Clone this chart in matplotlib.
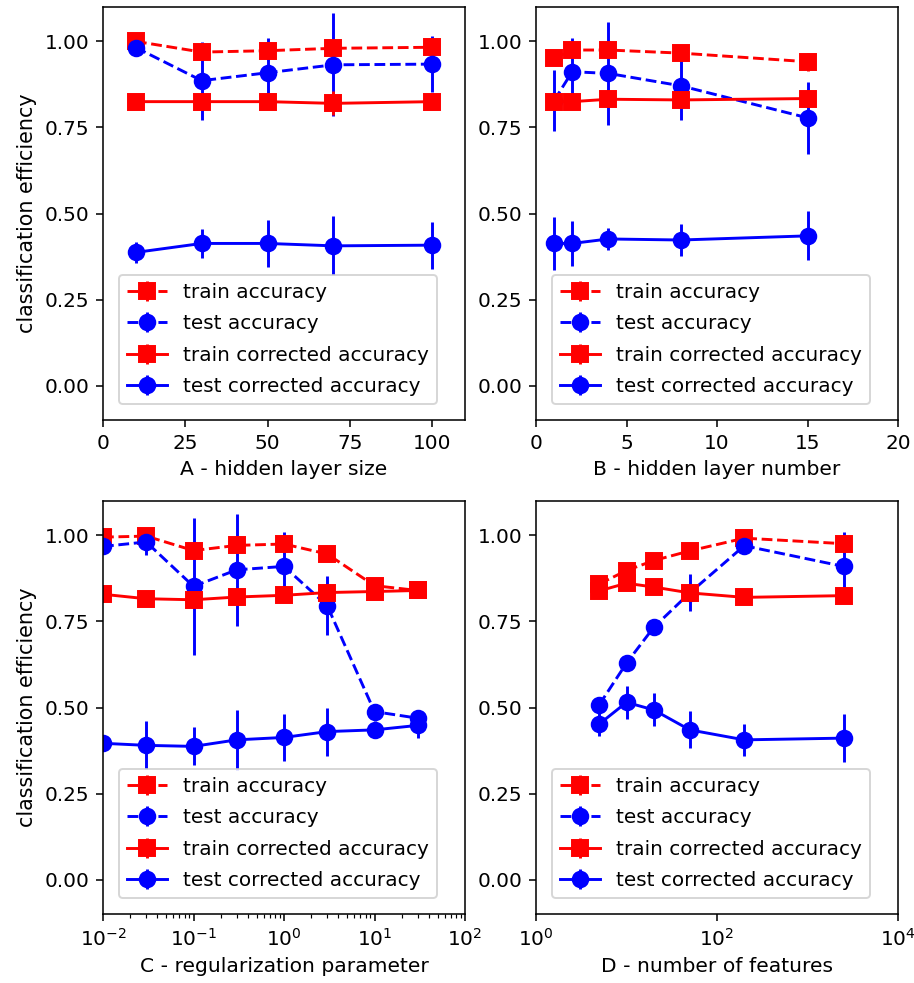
import matplotlib
matplotlib.use("Agg")
import matplotlib.pyplot as plt
from matplotlib.ticker import NullLocator

# A - hidden layer size
a_x = [10, 30, 50, 70, 100]
a_train = [1.000, 0.969, 0.973, 0.980, 0.983]
a_train_err = [0.010, 0.010, 0.010, 0.010, 0.010]
a_test = [0.982, 0.886, 0.909, 0.932, 0.934]
a_test_err = [0.010, 0.113, 0.100, 0.150, 0.082]
a_train_corr = [0.825, 0.825, 0.825, 0.820, 0.825]
a_train_corr_err = [0.008, 0.008, 0.008, 0.035, 0.012]
a_test_corr = [0.387, 0.413, 0.413, 0.406, 0.408]
a_test_corr_err = [0.031, 0.042, 0.068, 0.086, 0.068]

# B - hidden layer number
b_x = [1, 2, 4, 8, 15]
b_train = [0.951, 0.975, 0.975, 0.966, 0.941]
b_train_err = [0.015, 0.010, 0.010, 0.020, 0.026]
b_test = [0.828, 0.912, 0.907, 0.871, 0.778]
b_test_err = [0.089, 0.097, 0.150, 0.099, 0.104]
b_train_corr = [0.825, 0.825, 0.832, 0.830, 0.834]
b_train_corr_err = [0.010, 0.008, 0.008, 0.008, 0.010]
b_test_corr = [0.413, 0.413, 0.426, 0.423, 0.435]
b_test_corr_err = [0.078, 0.066, 0.032, 0.046, 0.071]

# C - regularization parameter
c_x = [0.01, 0.03, 0.1, 0.3, 1, 3, 10, 30]
c_train = [0.995, 0.998, 0.956, 0.971, 0.975, 0.946, 0.854, 0.840]
c_train_err = [0.010, 0.012, 0.010, 0.010, 0.010, 0.020, 0.020, 0.010]
c_test = [0.968, 0.981, 0.852, 0.900, 0.910, 0.796, 0.488, 0.469]
c_test_err = [0.015, 0.039, 0.200, 0.163, 0.100, 0.086, 0.012, 0.012]
c_train_corr = [0.829, 0.816, 0.813, 0.821, 0.826, 0.834, 0.837, 0.840]
c_train_corr_err = [0.012, 0.015, 0.010, 0.012, 0.010, 0.012, 0.012, 0.010]
c_test_corr = [0.396, 0.390, 0.387, 0.406, 0.413, 0.430, 0.435, 0.448]
c_test_corr_err = [0.010, 0.070, 0.055, 0.087, 0.068, 0.070, 0.025, 0.036]

# D - number of features
d_x = [5, 10, 20, 50, 200, 2500]
d_train = [0.859, 0.898, 0.927, 0.955, 0.992, 0.976]
d_train_err = [0.012, 0.012, 0.010, 0.010, 0.008, 0.010]
d_test = [0.508, 0.629, 0.733, 0.833, 0.970, 0.910]
d_test_err = [0.015, 0.015, 0.015, 0.054, 0.015, 0.100]
d_train_corr = [0.839, 0.861, 0.850, 0.833, 0.820, 0.825]
d_train_corr_err = [0.012, 0.015, 0.010, 0.010, 0.008, 0.008]
d_test_corr = [0.452, 0.515, 0.493, 0.435, 0.406, 0.411]
d_test_corr_err = [0.034, 0.047, 0.048, 0.054, 0.046, 0.070]

panels = [
    ("A - hidden layer size", a_x, a_train, a_train_err, a_test, a_test_err,
     a_train_corr, a_train_corr_err, a_test_corr, a_test_corr_err),
    ("B - hidden layer number", b_x, b_train, b_train_err, b_test, b_test_err,
     b_train_corr, b_train_corr_err, b_test_corr, b_test_corr_err),
    ("C - regularization parameter", c_x, c_train, c_train_err, c_test, c_test_err,
     c_train_corr, c_train_corr_err, c_test_corr, c_test_corr_err),
    ("D - number of features", d_x, d_train, d_train_err, d_test, d_test_err,
     d_train_corr, d_train_corr_err, d_test_corr, d_test_corr_err),
]

fig = plt.figure(figsize=(914 / 140, 983 / 140), dpi=140)
W, H = 914.0, 983.0
# axes boxes in pixels: left, top, width, height
boxes = [(103, 7, 362, 413), (536, 7, 362, 413),
         (103, 501, 362, 413), (536, 501, 362, 413)]

for k, (box, p) in enumerate(zip(boxes, panels)):
    l, t, w, h = box
    ax = fig.add_axes([l / W, 1 - (t + h) / H, w / W, h / H])
    label, x, tr, tre, te, tee, trc, trce, tec, tece = p
    ax.errorbar(x, tr, yerr=tre, fmt='s--', color='red', ms=8, label='train accuracy')
    ax.errorbar(x, te, yerr=tee, fmt='o--', color='blue', ms=8, label='test accuracy')
    ax.errorbar(x, trc, yerr=trce, fmt='s-', color='red', ms=8, label='train corrected accuracy')
    ax.errorbar(x, tec, yerr=tece, fmt='o-', color='blue', ms=8, label='test corrected accuracy')
    ax.set_ylim(-0.1, 1.1)
    ax.set_yticks([0.0, 0.25, 0.5, 0.75, 1.0])
    ax.tick_params(labelsize=10.3)
    ax.set_xlabel(label, fontsize=10.4)
    if k == 0:
        ax.set_xlim(0, 110)
        ax.set_xticks([0, 25, 50, 75, 100])
    elif k == 1:
        ax.set_xlim(0, 20)
        ax.set_xticks([0, 5, 10, 15, 20])
    elif k == 2:
        ax.set_xscale('log')
        ax.set_xlim(1e-2, 1e2)
    else:
        ax.set_xscale('log')
        ax.set_xlim(1, 1e4)
        ax.set_xticks([1, 100, 10000])
        ax.xaxis.set_minor_locator(NullLocator())
    if k % 2 == 0:
        ax.set_ylabel('classification efficiency', fontsize=10.6)
    ax.legend(loc='lower left', fontsize=10.3, borderaxespad=0.8, labelspacing=0.62)

fig.savefig('out.png', dpi=140)
